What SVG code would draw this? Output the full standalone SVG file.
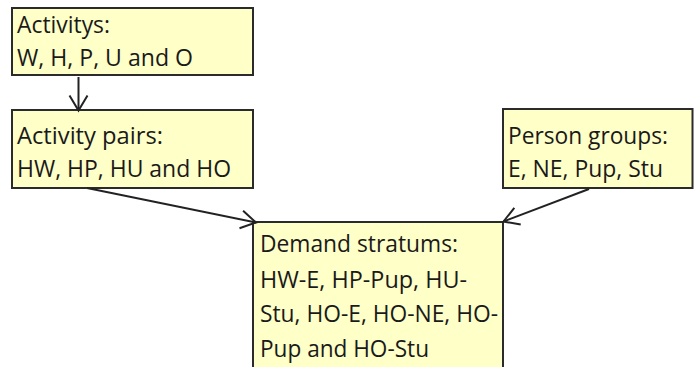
<svg xmlns="http://www.w3.org/2000/svg" width="694" height="367" viewBox="0 0 694 367">
  <style>
    .box { fill: #ffffc8; stroke: #2b2b2b; stroke-width: 2; }
    .label { font-family: "Open Sans", "Liberation Sans", sans-serif; font-size: 23px; fill: #1a1a1a; }
    .edge { fill: none; stroke: #222; stroke-width: 2; }
  </style>
  <defs>
    <marker id="open-arrow" markerUnits="userSpaceOnUse" viewBox="-18 -12 20 24" markerWidth="20" markerHeight="24" refX="0" refY="0" orient="auto">
      <path d="M-15,-9 L0,0 L-15,9" fill="none" stroke="#222" stroke-width="2"/>
    </marker>
  </defs>

  <g id="activities">
    <rect class="box" x="12" y="8" width="241" height="67"/>
    <text class="label" x="17" y="32.5" textLength="93" lengthAdjust="spacingAndGlyphs">Activitys:</text>
    <text class="label" x="17" y="65.5" textLength="176" lengthAdjust="spacingAndGlyphs">W, H, P, U and O</text>
  </g>

  <g id="activity-pairs">
    <rect class="box" x="12" y="110" width="241" height="78"/>
    <text class="label" x="17" y="143.5" textLength="146" lengthAdjust="spacingAndGlyphs">Activity pairs:</text>
    <text class="label" x="17" y="177" textLength="214" lengthAdjust="spacingAndGlyphs">HW, HP, HU and HO</text>
  </g>

  <g id="person-groups">
    <rect class="box" x="503" y="109" width="189.5" height="79"/>
    <text class="label" x="508" y="143.5" textLength="160" lengthAdjust="spacingAndGlyphs">Person groups:</text>
    <text class="label" x="508" y="177" textLength="155" lengthAdjust="spacingAndGlyphs">E, NE, Pup, Stu</text>
  </g>

  <g id="demand-stratums">
    <rect class="box" x="253" y="222" width="250" height="160"/>
    <text class="label" x="260" y="252" textLength="198" lengthAdjust="spacingAndGlyphs">Demand stratums:</text>
    <text class="label" x="260" y="287.5" textLength="207" lengthAdjust="spacingAndGlyphs">HW-E, HP-Pup, HU-</text>
    <text class="label" x="260" y="322" textLength="238" lengthAdjust="spacingAndGlyphs">Stu, HO-E, HO-NE, HO-</text>
    <text class="label" x="260" y="357" textLength="169" lengthAdjust="spacingAndGlyphs">Pup and HO-Stu</text>
  </g>

  <g id="connectors">
    <line class="edge" x1="78.5" y1="77" x2="78.5" y2="110.5" marker-end="url(#open-arrow)"/>
    <line class="edge" x1="87" y1="188" x2="256" y2="222.5" marker-end="url(#open-arrow)"/>
    <line class="edge" x1="589" y1="189" x2="503.5" y2="221.5" marker-end="url(#open-arrow)"/>
  </g>
</svg>
